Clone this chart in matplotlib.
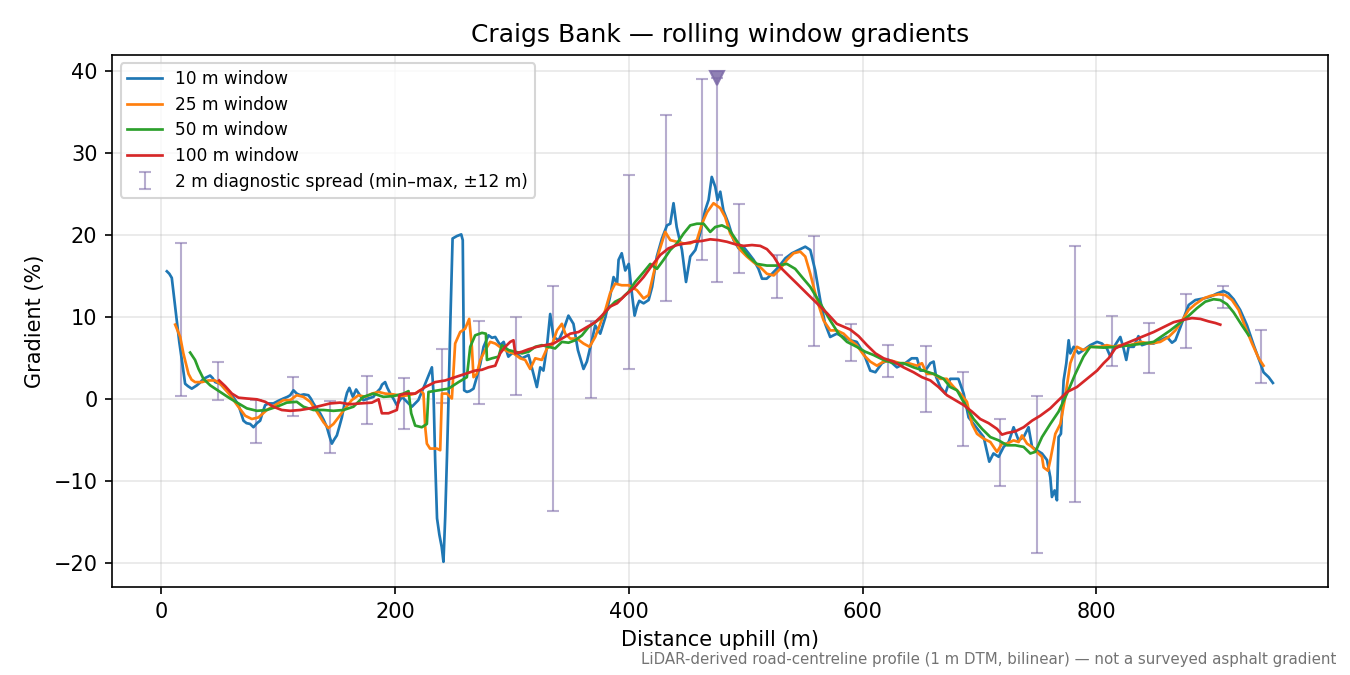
import numpy as np
import matplotlib
matplotlib.use("Agg")
import matplotlib.pyplot as plt

# Rolling-window gradients, distance (m) vs gradient (%)
dist_10 = [4.9, 7, 9.1, 11, 13.4, 15.5, 17.7, 20.5, 23, 26.2, 30.5, 33, 36.2, 39, 41.9, 44, 46.2, 50.5, 55, 59,
           63, 66.2, 68, 70.4, 73, 76.1, 79, 82, 84.7, 87, 89, 92, 96, 100, 104.6, 108, 110.4, 113.2, 116, 119,
           122, 126, 128, 130.3, 133, 136, 139, 141.8, 144, 146, 148, 150.3, 152.5, 154.6, 157.4, 159, 161, 164,
           166.8, 170, 173, 177, 181.6, 184, 187.4, 189, 191.6, 193.5, 196, 199, 201.6, 206, 210.2, 214.5, 220,
           223, 225.9, 229, 231.6, 233, 234.4, 236, 238, 240, 241.5, 243, 244.5, 245.8, 247.5, 249.3, 253, 256.7,
           258, 259.2, 261.5, 264, 267.2, 270, 273, 275.8, 280, 283, 285.8, 290, 293, 297, 300, 304, 308.6, 314.3,
           317, 321.4, 324.3, 327, 330, 332.8, 335.6, 340, 344, 348.4, 352.7, 356.5, 361.3, 364.2, 368.5, 371.3,
           375.6, 380, 384, 387, 390, 391.3, 394, 397, 400, 402.7, 405, 407, 409, 412.7, 417, 420, 424, 428.4,
           432.7, 435.5, 438.3, 441, 445.5, 449, 452.6, 457, 461, 465.3, 468.3, 471, 474, 476, 478.3, 481, 485.4,
           489.7, 494, 498, 502.5, 506.8, 511, 514, 518, 522.5, 528, 534, 539.6, 545.3, 551, 555.3, 559.5, 563.8,
           568, 572.3, 578, 583.8, 589.5, 595, 601, 606.6, 611, 616.6, 622.3, 629.4, 636.5, 642, 646.6, 649.4,
           653.7, 658, 660.8, 663, 666.5, 670.8, 675, 682, 686.5, 690.7, 695, 699.3, 703.6, 708.4, 712, 716.4,
           720.7, 725, 729.2, 733.5, 737.8, 742, 745, 749, 753.5, 757.8, 760.6, 762, 764.3, 766.3, 767.7, 769.7,
           772, 774.3, 776.3, 777.7, 780.6, 784.8, 789, 794.8, 800.6, 804.8, 809, 812, 816, 820.5, 823.3, 825.6,
           827.6, 832, 836, 839, 843.3, 849, 854.7, 860.4, 864.7, 867.6, 871.9, 876, 879, 884.7, 891.8, 897.5,
           903.2, 908.9, 913, 917.4, 923, 928.9, 934.6, 940.3, 943, 947.4, 951]
grad_10 = [15.6, 15.3, 14.8, 12.5, 9.6, 7, 4.8, 1.9, 1.6, 1.3, 1.7, 2.0, 2.5, 2.7, 2.9, 2.6, 2.1, 1.9, 1.2, 0.7,
           0, -0.7, -1.5, -2.6, -2.9, -3.0, -3.4, -2.9, -2.6, -1.5, -0.7, -0.5, -0.5, -0.2, 0.1, 0.3, 0.5, 1.1, 0.7,
           0.5, 0.6, 0.5, 0.1, -0.5, -1.1, -1.7, -2.5, -3.4, -4.5, -5.4, -4.9, -4.4, -3.3, -2.2, -0.1, 0.8, 1.4, 0.3,
           1.2, 0.5, -0.1, 0.1, 0.3, 0.8, 1.3, 1.8, 2.1, 1.4, 0.7, 0, -0.7, 0.3, -0.3, -0.9, -0.1,
           0.9, 1.9, 3.0, 3.9, 0.7, -7.4, -14.5, -16.5, -18, -19.8, -14.3, -7, -0.1, 10, 19.6, 19.9, 20.1,
           19.4, 1.1, 0.9, 1.0, 1.3, 2.7, 4.3, 6.4, 7.8, 7.5, 7.6, 6.6, 7.0, 5.2, 5.6, 5.6, 5.0, 5.4,
           3.9, 1.5, 3.9, 3.5, 6.4, 10.4, 7.6, 7.2, 8.4, 10.2, 9.2, 6.0, 3.7, 4.6, 7.2, 9.0,
           8.0, 10.0, 12.5, 14.9, 14.1, 17.0, 17.8, 15.7, 16.5, 12.9, 10.2, 11.3, 12.0, 11.7, 12.1, 13.7, 17.4, 19.6,
           21.2, 21.4, 23.9, 21.0, 18.2, 14.3, 17.4, 18.2, 20.2, 23.0, 24.3, 27.1, 25.9, 24.3, 25.3, 23.0, 21.4,
           19.4, 18.4, 18.6, 17.8, 17.0, 15.9, 14.7, 14.7, 15.3, 16.1, 17.2, 17.8, 18.2, 18.6, 18.2, 15.7, 12.1,
           9.2, 7.6, 8.0, 7.6, 7.2, 7.0, 5.6, 3.5, 3.3, 4.4, 4.8, 3.9, 4.4, 5.0, 5.0, 3.5,
           3.5, 4.4, 4.6, 2.7, 1.5, 0.7, 2.5, 2.5, 0.7, -2.2, -3.0, -3.8, -4.6, -7.6, -6.6, -7.0,
           -5.8, -5.2, -3.4, -5.0, -4.6, -3.4, -5.8, -6.2, -6.6, -7.4, -9.5, -11.9, -11.1, -12.3, -4.6, -4.2,
           2.3, 4.4, 7.2, 5.6, 6.4, 5.6, 6.0, 6.6, 7.0, 6.8, 6.2, 5.2, 6.6, 7.6, 6.2, 4.8,
           6.4, 6.4, 7.7, 6.6, 6.8, 6.8, 7.2, 7.6, 6.9, 7.2, 8.8, 10.4, 11.5, 12.1, 12.3, 12.5,
           12.9, 13.2, 12.9, 12.2, 10.9, 9.0, 6.6, 4.4, 3.3, 2.7, 2.0]

dist_25 = [12, 16.3, 19, 23.4, 26, 29, 34.8, 40.5, 46.2, 52, 59, 66, 71.9, 77.6, 83.3, 90.4, 97.5, 104.6, 110.4,
           116, 121.7, 127.5, 133.2, 138.9, 143, 147.4, 151.7, 157.4, 163, 168.8, 174.5, 180.3, 186, 191.6, 198.8,
           206, 211.6, 217.3, 221.6, 224.4, 225.9, 227.3, 230, 235.9, 238.7, 240.2, 244.4, 248.7, 251.5, 255.8,
           260, 263.5, 265.8, 267.2, 270, 273, 277.2, 281.5, 285.8, 291.5, 297, 301.4, 307.2, 311.4, 315.7, 320,
           325.7, 330, 334.3, 338.6, 342.8, 345.7, 350, 355.7, 361.3, 366.5, 371.3, 375.6, 380, 384, 388.4, 394,
           400, 407, 412.7, 417, 421.2, 425.5, 431.2, 435.5, 441.2, 447, 452.6, 458.3, 462.6, 467, 472.5, 478.3,
           482.5, 486.8, 491, 495.4, 501, 506.8, 512.5, 518.2, 524, 529.6, 535.3, 541, 546.7, 551, 555.3, 561,
           566.7, 572.4, 578, 583.8, 589.5, 595, 601, 606.6, 612.3, 618, 625, 632.3, 639.4, 646.6, 650.8, 655,
           660.8, 666.5, 672, 678, 683.6, 689.3, 693.6, 697.9, 703.6, 709.3, 715, 719.3, 723.6, 729.2, 733.5,
           736.4, 740.7, 745, 749, 753.5, 754.9, 758.6, 760.6, 764.9, 769.2, 773.4, 777.7, 782, 783.4, 789, 794.8,
           803.4, 809, 814.8, 820.5, 829, 837.6, 846, 854.7, 861.8, 867.6, 873.3, 879, 884.7, 891.8, 897.5, 904.6,
           910.4, 916, 921.7, 927.4, 933.2, 938.9, 943]
grad_25 = [9.1, 7.6, 5.6, 3.1, 2.4, 2.1, 2.1, 2.3, 2.3, 1.7, 0.5, -0.9, -2.0, -2.4, -2.2, -1.3, -0.7, -0.1, -0.1,
           0.5, 0.3, -0.3, -1.5, -2.8, -3.5, -3.0, -2.2, -1.1, -0.1, 0.5, 0.3, 0.7, 0.9, 0.7, 0.6,
           0.4, 0.5, 0.7, 1.1, 0.7, -3.4, -5.4, -6.0, -6.0, -6.2, 0.7, 0.7, 0.1, 6.8, 8.2,
           8.6, 9.8, 6.4, 2.7, 3.1, 4.8, 6.0, 7.0, 6.8, 6.2, 5.8, 5.6, 5.0, 4.8, 3.7, 5.0,
           4.8, 6.2, 6.6, 8.4, 9.2, 8.0, 7.4, 7.4, 6.8, 6.4, 7.6, 9.2, 10.9, 12.9, 14.1, 13.9,
           13.9, 13.3, 12.3, 12.7, 15.3, 17.8, 20.4, 19.4, 19.2, 19.0, 19.0, 19.4, 21.4, 22.8, 23.9, 23.3,
           22.2, 20.2, 19.2, 18.2, 17.4, 16.7, 16.1, 15.3, 15.1, 15.9, 17.0, 17.8, 18.0, 17.4, 15.3, 12.1,
           9.6, 8.4, 8.4, 8.0, 7.2, 6.6, 5.4, 4.6, 4.1, 4.6, 4.7, 4.4, 4.4, 4.1, 4.4, 3.1,
           3.1, 2.5, 2.5, 1.5, 0.7, -0.3, -3.0, -4.2, -4.8, -5.2, -6.4, -5.4, -5.4, -5.0, -5.2,
           -4.4, -5.4, -5.8, -6.4, -7.0, -8.3, -8.7, -7.4, -4.2, -3.0, 0.3, 4.4, 6.0, 6.4, 6.0, 6.4,
           6.4, 6.6, 6.4, 6.6, 6.6, 7.0, 6.8, 7.0, 7.6, 8.4, 9.6, 10.9, 11.6, 12.3, 12.6, 12.8,
           12.7, 12.1, 10.9, 8.8, 6.8, 5.0, 4.1]

dist_50 = [24.8, 29, 32, 36.2, 42, 50.5, 59, 66.2, 73.3, 81.9, 90.4, 99, 107.5, 116, 121.7, 130.3, 138.9, 147.4,
           156, 164.5, 173, 181.6, 190.2, 198.8, 207.3, 211.6, 213.9, 217.3, 223, 227.3, 228.7, 237.2, 245.8,
           254.4, 261.5, 264.4, 268.6, 274.4, 277.8, 278.7, 283, 288.6, 291.5, 297.2, 302.9, 308.6, 314.3, 320,
           325.7, 331.4, 337, 342.8, 348.5, 354.2, 360, 365.6, 371.3, 377, 382.7, 388.4, 394, 399.8, 405.5, 412.7,
           418.4, 424.1, 429.8, 435.5, 441.2, 446.9, 452.6, 458.3, 464, 469.7, 474, 479.7, 485.4, 491, 496.8,
           502.5, 509.7, 518.2, 526.8, 535.3, 542.4, 548.2, 555.3, 563.8, 572.4, 579.5, 586.7, 595, 602.3, 609.4,
           618, 626.5, 635, 643.6, 652.2, 660.8, 669.3, 675, 680.8, 687.9, 695, 702.2, 709.3, 716.4, 723.6, 730.7,
           737.8, 743.5, 747.8, 753.5, 760.6, 767.7, 774.9, 782, 789, 794.8, 806.2, 817.7, 829, 840.4, 849, 856.2,
           863.3, 870.4, 877.6, 886, 893.2, 900.3, 906, 911.7, 917.4, 924.6, 930.3]
grad_50 = [5.7, 4.8, 3.7, 2.5, 1.7, 0.9, 0.1, -0.5, -1.1, -1.4, -1.3, -0.9, -0.4, -0.3, -0.9, -1.3, -1.3, -1.4,
           -1.3, -0.9, 0.3, 0.7, 0.3, 0.4, 0.7, 1.0, -1.7, -3.2, -3.4, -3.0, 0.9, 1.1, 1.3,
           2.1, 2.7, 6.4, 7.8, 8.1, 8.0, 4.8, 5.0, 5.2, 6.6, 6.0, 5.8, 5.6, 5.8, 6.4,
           6.6, 6.4, 6.2, 7.0, 6.9, 7.2, 7.8, 8.8, 9.4, 10.0, 11.1, 11.9, 12.3, 13.1, 14.3, 15.5,
           16.5, 15.9, 17.0, 18.2, 19.0, 20.2, 21.2, 21.4, 21.4, 20.4, 21.0, 21.2, 20.8, 19.6, 18.4,
           17.4, 16.5, 16.3, 16.3, 16.5, 15.9, 14.9, 13.7, 11.7, 9.6, 8.0, 7.0, 6.4, 5.8, 5.4,
           4.8, 4.4, 4.4, 3.9, 3.5, 3.1, 2.5, 1.5, 1.1, -0.7, -2.4, -3.6, -4.6, -5.0, -5.6, -5.6,
           -5.8, -6.6, -6.4, -4.6, -3.0, -1.5, 0.7, 3.1, 5.2, 6.4, 6.3, 6.4, 6.6, 6.8, 7.0, 7.7,
           8.4, 9.2, 10.0, 11.1, 11.9, 12.2, 12.1, 11.6, 10.6, 9.0, 7.8]

dist_100 = [49.6, 54.8, 60.5, 66.2, 73.3, 81.9, 89, 96, 103.2, 110.4, 119, 127.5, 136, 144.6, 153, 161.7, 170.3,
            180.3, 186, 188.8, 194.5, 201.6, 203.9, 208.8, 217.3, 225.9, 234.4, 243, 251.5, 260, 268.6, 274.4,
            280, 285.8, 290, 294.3, 298.6, 301.4, 302.9, 308.6, 314.3, 321.4, 328.5, 335.6, 342.8, 350, 357,
            364.2, 371.3, 377, 384, 390, 397, 404, 412.7, 419.8, 427, 434, 441.2, 448.3, 455.4, 462.6, 469.7,
            476.8, 484, 491, 498.2, 505.4, 512.5, 518.2, 524, 529.6, 536.7, 543.9, 552.4, 561, 569.6, 578, 589.5,
            596.6, 603.8, 611, 618, 626.5, 635, 643.6, 650.8, 658, 665, 672.2, 679.3, 686.5, 693.6, 700.7, 707.8,
            715, 719.3, 723.6, 730.7, 737.8, 745, 752, 760.6, 767.7, 775, 783.4, 792, 800.6, 806.2, 810.5, 816.2,
            823.3, 831.9, 840.4, 849, 857.5, 866.1, 874.7, 881.8, 889, 896, 901.8, 906]
grad_100 = [2.3, 1.6, 0.7, 0.2, 0.1, 0.0, -0.3, -0.9, -1.3, -1.4, -1.3, -1.1, -0.8, -0.5, -0.4, -0.6, -0.5,
            -0.4, 0.0, -1.7, -1.7, -1.3, 0.5, 0.7, 0.7, 1.5, 2.1, 2.3, 2.7, 3.1, 3.5, 3.6,
            3.9, 4.1, 5.6, 6.4, 7.0, 7.2, 5.6, 5.8, 6.1, 6.4, 6.6, 6.8, 7.4, 8.0, 8.2,
            8.8, 9.4, 10.2, 11.3, 11.7, 12.7, 13.5, 14.9, 16.3, 17.6, 18.4, 18.8, 19.0, 19.2, 19.3, 19.5,
            19.4, 19.2, 18.9, 18.7, 18.8, 18.7, 18.3, 17.4, 16.1, 15.1, 14.1, 12.9, 11.7, 10.5, 9.2, 8.5,
            7.7, 6.6, 5.6, 5.0, 4.6, 3.9, 3.3, 2.7, 2.3, 1.5, 0.5, -0.1, -0.7, -1.5, -2.4, -2.9,
            -3.6, -4.3, -4.1, -3.9, -3.4, -2.6, -2.0, -1.1, -0.1, 0.9, 1.5, 2.5, 3.5, 4.4, 5.0, 6.2,
            6.7, 7.2, 7.7, 8.2, 8.8, 9.4, 9.7, 9.9, 9.8, 9.5, 9.3, 9.1]

# 2 m diagnostic spread: min and max within +/-12 m of each check point
spread_dist = [17.1, 48.8, 81, 112.7, 144.6, 176.3, 207.9, 240.4, 272.3, 303.7, 335.4, 367.9, 399.8, 431.5,
               462.9, 475.2, 494.5, 526.7, 558.4, 590, 621.7, 654.2, 685.8, 717.8, 749.5, 782, 813.6, 845,
               876.7, 908.4, 940.9]
spread_max = [19.1, 4.6, -0.1, 2.7, -0.2, 2.8, 2.6, 6.1, 9.6, 10.0, 13.8, 9.6, 27.3, 34.6,
              39.0, 39.1, 23.8, 17.6, 19.9, 9.2, 6.6, 6.5, 3.3, -2.4, 0.4, 18.7, 10.2, 9.3,
              12.8, 13.8, 8.5]
spread_min = [0.4, -0.1, -5.3, -2.0, -6.6, -3.0, -3.6, -0.4, -0.6, 0.5, -13.6, 0.2, 3.7, 12.0,
              17.0, 14.3, 15.4, 12.4, 6.5, 4.7, 2.7, -1.5, -5.7, -10.6, -18.7, -12.5, 4.1, 3.2,
              6.3, 11.1, 2.0]
# steepest 2 m reading, marked at the top of its bar
steep_dist = 475.2
steep_grad = 39.1

fig, ax = plt.subplots(figsize=(9, 4.5), dpi=150)
fig.subplots_adjust(left=0.083, right=0.984, top=0.919, bottom=0.130)

spread_dist = np.array(spread_dist)
lo = np.array(spread_min)
hi = np.array(spread_max)
mid = (lo + hi) / 2
ax.errorbar(spread_dist, mid, yerr=[mid - lo, hi - mid], fmt="none", ecolor="#7d6ba8",
            alpha=0.55, elinewidth=1.0, capsize=3, zorder=1,
            label="2 m diagnostic spread (min\u2013max, \u00b112 m)")
ax.plot([steep_dist], [steep_grad], marker="v", color="#7d6ba8", alpha=0.85,
        markersize=6.5, linestyle="none", zorder=3)

ax.plot(dist_10, grad_10, color="tab:blue", lw=1.3, label="10 m window", zorder=2)
ax.plot(dist_25, grad_25, color="tab:orange", lw=1.3, label="25 m window", zorder=2)
ax.plot(dist_50, grad_50, color="tab:green", lw=1.3, label="50 m window", zorder=2)
ax.plot(dist_100, grad_100, color="tab:red", lw=1.3, label="100 m window", zorder=2)

ax.set_xlim(-42, 998.5)
ax.set_ylim(-22.9, 42)
ax.grid(True, alpha=0.3)
ax.set_title("Craigs Bank \u2014 rolling window gradients", fontsize=12)
ax.set_xlabel("Distance uphill (m)")
ax.set_ylabel("Gradient (%)")
ax.legend(loc="upper left", fontsize=8.2, labelspacing=0.45)

fig.text(0.99, 0.012, "LiDAR-derived road-centreline profile (1 m DTM, bilinear) \u2014 not a surveyed asphalt gradient",
         ha="right", va="bottom", fontsize=7.2, color="0.45")

fig.savefig("out.png", dpi=150)
